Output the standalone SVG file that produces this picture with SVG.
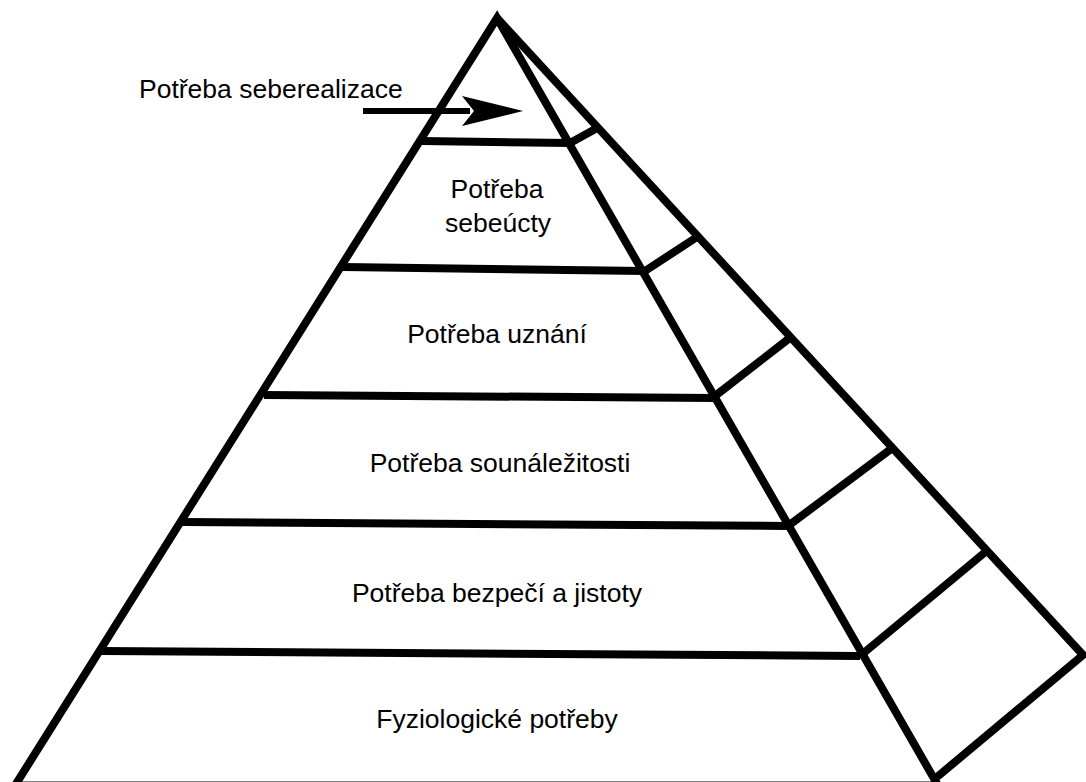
<svg xmlns="http://www.w3.org/2000/svg" width="1086" height="782" viewBox="0 0 1086 782">
<style>
.ln{stroke:#000;stroke-width:8;fill:none;stroke-linecap:butt;stroke-linejoin:miter}
.t{font-family:"Liberation Sans",Arial,sans-serif;font-size:26.5px;fill:#000;text-anchor:middle}
</style>
<rect width="1086" height="782" fill="#fff"/>
<g id="connectors">
<path class="ln" d="M15,785.5 L497,18 L938,785.5 Z"/>
<path class="ln" d="M497,18 L1083,655 L937,777"/>
<path class="ln" d="M422,141 L570,143"/>
<path class="ln" d="M343,267 L645,271"/>
<path class="ln" d="M264,395 L715,398"/>
<path class="ln" d="M183,522 L788,526"/>
<path class="ln" d="M102,651 L860,656"/>
<path class="ln" d="M570,143 L599,127"/>
<path class="ln" d="M645,271 L697,237"/>
<path class="ln" d="M715,396 L791,337"/>
<path class="ln" d="M788,526 L891,449"/>
<path class="ln" d="M860,656 L989,549"/>
<path d="M363,111 L470,111" stroke="#000" stroke-width="6" fill="none"/>
<path d="M523,111 L462,96 L474,111 L462,126 Z" fill="#000"/>
</g>
<g id="n0"><text x="139" y="98" class="t" style="text-anchor:start">Potřeba seberealizace</text></g>
<g id="n1"><text x="497" y="198" class="t">Potřeba</text><text x="498" y="232" class="t">sebeúcty</text></g>
<g id="n2"><text x="497" y="343" class="t">Potřeba uznání</text></g>
<g id="n3"><text x="500" y="472" class="t">Potřeba sounáležitosti</text></g>
<g id="n4"><text x="497" y="602" class="t">Potřeba bezpečí a jistoty</text></g>
<g id="n5"><text x="497" y="728" class="t">Fyziologické potřeby</text></g>
</svg>
